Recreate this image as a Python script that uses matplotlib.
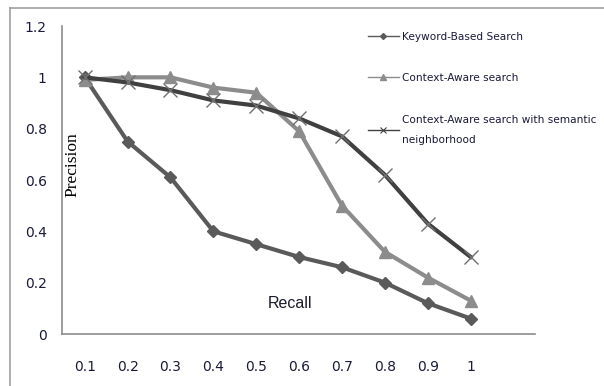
import matplotlib
matplotlib.use("Agg")
import matplotlib.pyplot as plt
from matplotlib.lines import Line2D

recall = ["0.1", "0.2", "0.3", "0.4", "0.5", "0.6", "0.7", "0.8", "0.9", "1"]
keyword = [1.0, 0.75, 0.61, 0.40, 0.35, 0.30, 0.26, 0.20, 0.12, 0.06]
context = [0.99, 1.0, 1.0, 0.96, 0.94, 0.79, 0.50, 0.32, 0.22, 0.13]
semantic = [1.0, 0.98, 0.95, 0.91, 0.89, 0.84, 0.77, 0.62, 0.43, 0.30]
labels = ["Keyword-Based Search", "Context-Aware search",
          "Context-Aware search with semantic\nneighborhood"]
yticks = [0, 0.2, 0.4, 0.6, 0.8, 1, 1.2]
ytick_labels = ["0", "0.2", "0.4", "0.6", "0.8", "1", "1.2"]

c_kw, c_ctx, c_sem = "#5a5a5a", "#8c8c8c", "#404040"

fig = plt.figure(figsize=(6.04, 3.86), dpi=100)
ax = fig.add_axes([62/604, 1 - 334/386, (535-62)/604, (334-26)/386])

x = list(range(len(recall)))
ax.plot(x, keyword, color=c_kw, lw=3, marker="D", ms=6.5, zorder=3)
ax.plot(x, context, color=c_ctx, lw=3, marker="^", ms=9, zorder=3)
ax.plot(x, semantic, color=c_sem, lw=3, marker="x", ms=10, mew=1,
        mec="#707070", zorder=4)

ax.set_xlim(-0.53, 10.5)
ax.set_ylim(0, 1.2)
ax.set_xticks(x)
ax.set_xticklabels(recall)
ax.set_yticks(yticks)
ax.set_yticklabels(ytick_labels)
ax.tick_params(length=0, labelsize=10, colors="#1a1a3a")
ax.tick_params(axis="x", pad=19)
ax.tick_params(axis="y", pad=11)
for s in ["top", "right"]:
    ax.spines[s].set_visible(False)
for s in ["left", "bottom"]:
    ax.spines[s].set_color("#8c8c8c")
    ax.spines[s].set_linewidth(1.2)

ax.text(0.023, 0.549, "Precision", transform=ax.transAxes, rotation=90,
        family="Liberation Serif", fontsize=12.5, ha="center", va="center")
ax.text(4.78, 0.12, "Recall", family="Liberation Sans", fontsize=11.5,
        ha="center", va="center", color="#1a1a2a")

handles = [
    Line2D([], [], color=c_kw, lw=1, marker="D", ms=3),
    Line2D([], [], color=c_ctx, lw=1, marker="^", ms=4.5),
    Line2D([], [], color=c_sem, lw=1, marker="x", ms=5, mew=0.8),
]
leg = fig.legend(handles, labels, loc="upper left",
                 bbox_to_anchor=(358/604, 1 - 22/386),
                 frameon=False, handlelength=3.0, handletextpad=0.25,
                 labelspacing=3.0, prop={"family": "DejaVu Sans", "size": 7.6})
for t in leg.get_texts():
    t.set_linespacing(2.3)
    t.set_color("#1a1a3a")

# outer frame (left and top visible)
fig.add_artist(Line2D([10/604, 10/604], [0, 1 - 8/386], color="#a0a0a0", lw=1.2))
fig.add_artist(Line2D([10/604, 1], [1 - 8/386, 1 - 8/386], color="#a0a0a0", lw=1.2))

fig.savefig("out.png", dpi=100)
